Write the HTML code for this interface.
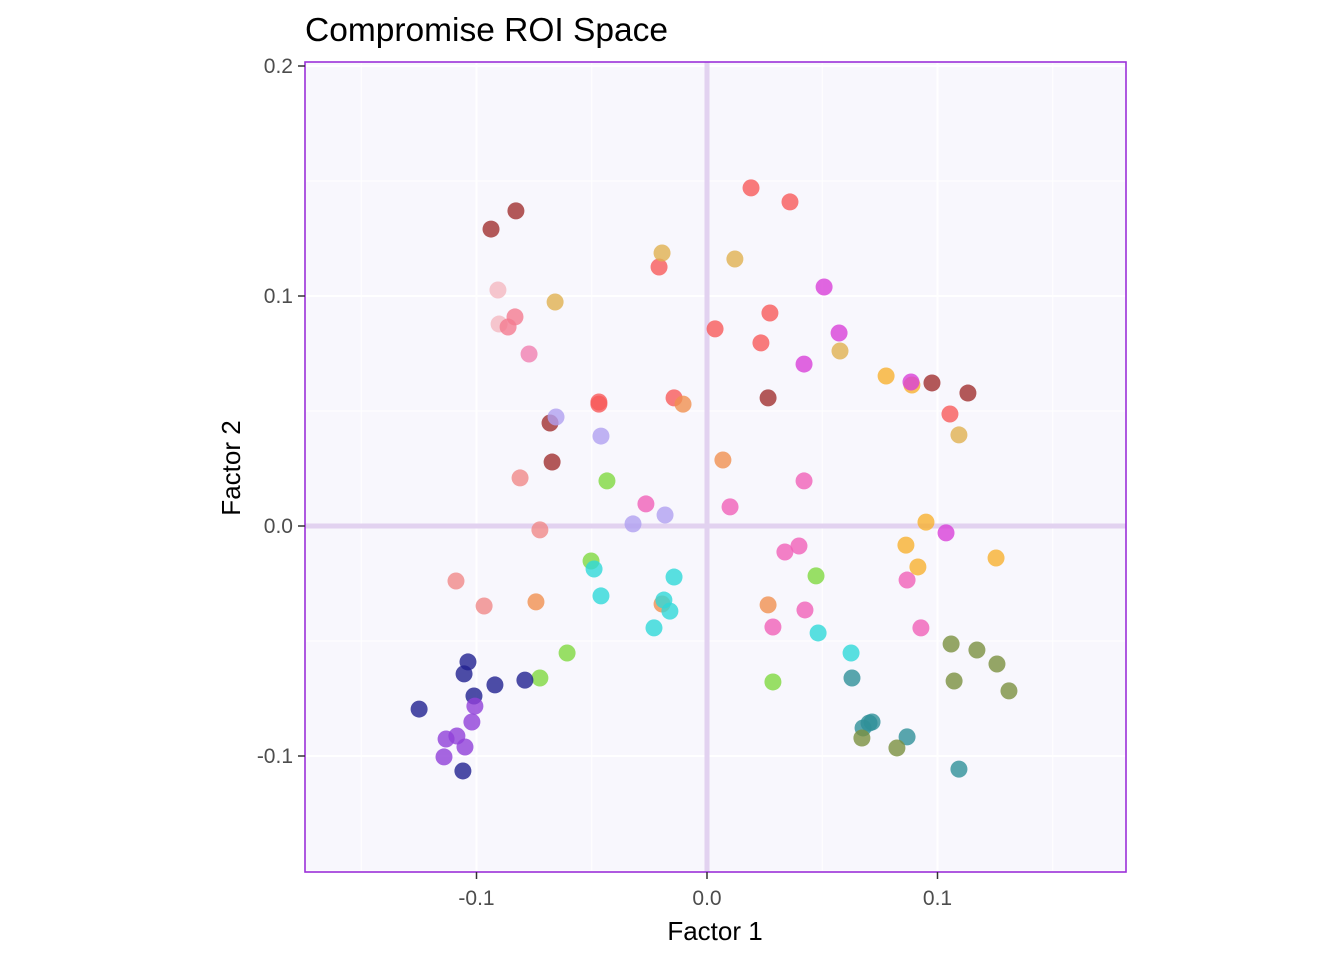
<!DOCTYPE html>
<html><head><meta charset="utf-8"><style>
html,body{margin:0;padding:0;background:#fff;}
svg text{font-family:"Liberation Sans",Arial,sans-serif;}
</style></head><body>
<svg id="chart" width="1344" height="960" xmlns="http://www.w3.org/2000/svg">
<text x="305" y="41" font-size="33.5" fill="#000">Compromise ROI Space</text>
<rect x="305" y="62" width="821" height="810" fill="#f8f7fd"/>
<g id="grid"></g>
<g id="zero"></g>
<g id="pts"></g>
<rect x="305" y="62" width="821" height="810" fill="none" stroke="#9b30d9" stroke-width="1.6"/>
<g id="axes"></g>
<text x="715" y="940" font-size="26" text-anchor="middle">Factor 1</text>
<text x="0" y="0" font-size="26" text-anchor="middle" transform="translate(240,468) rotate(-90)">Factor 2</text>
</svg>
<script>
const xTicks=[-0.1,0.0,0.1];
const xTickLabels=["-0.1","0.0","0.1"];
const yTicks=[-0.1,0.0,0.1,0.2];
const yTickLabels=["-0.1","0.0","0.1","0.2"];
const groupColors=["#a03030","#f85a5a","#f4b8c0","#f47a90","#f080b0","#e0b050","#f8b030","#d840d8","#b0a0f0","#80d840","#f08888","#f09050","#f060b8","#30d8d8","#309098","#7a9040","#202090","#9040d8"];
const ptPx=[[491,229,0],[516,211,0],[550,423,0],[552,462,0],[768,398,0],[932,383,0],[968,393,0],
[751,188,1],[790,202,1],[659,267,1],[715,329,1],[770,313,1],[761,343,1],[599,402,1],[599,404,1],[674,398,1],[950,414,1],
[498,290,2],[499,324,2],[508,327,3],[515,317,3],[529,354,4],
[662,253,5],[735,259,5],[555,302,5],[840,351,5],[959,435,5],
[886,376,6],[912,385,6],[926,522,6],[906,545,6],[918,567,6],[996,558,6],
[824,287,7],[839,333,7],[804,364,7],[911,382,7],[946,533,7],
[556,417,8],[601,436,8],[633,524,8],[665,515,8],
[607,481,9],[591,561,9],[816,576,9],[567,653,9],[540,678,9],[773,682,9],
[520,478,10],[540,530,10],[456,581,10],[484,606,10],
[683,404,11],[723,460,11],[536,602,11],[662,604,11],[768,605,11],
[646,504,12],[730,507,12],[804,481,12],[785,552,12],[799,546,12],[907,580,12],[805,610,12],[773,627,12],[921,628,12],
[594,569,13],[674,577,13],[601,596,13],[664,600,13],[670,611,13],[654,628,13],[818,633,13],[851,653,13],
[852,678,14],[863,728,14],[869,723,14],[872,722,14],[907,737,14],[959,769,14],
[951,644,15],[977,650,15],[997,664,15],[1009,691,15],[954,681,15],[862,738,15],[897,748,15],
[468,662,16],[464,674,16],[474,696,16],[495,685,16],[525,680,16],[419,709,16],[463,771,16],
[475,706,17],[472,722,17],[446,739,17],[457,736,17],[465,747,17],[444,757,17]];
const xVals=ptPx.map(p=>+((p[0]-707)/2305).toFixed(4));
const yVals=ptPx.map(p=>+((526-p[1])/2300).toFixed(4));
const groups=ptPx.map(p=>p[2]);
const X=v=>707+v*2305, Y=v=>526-v*2300;
const NS="http://www.w3.org/2000/svg";
function mk(t,a,parent){const e=document.createElementNS(NS,t);for(const k in a)e.setAttribute(k,a[k]);parent.appendChild(e);return e;}
const grid=document.getElementById('grid');
[-0.15,-0.05,0.05,0.15].forEach(v=>{const l=mk('line',{x1:X(v),x2:X(v),y1:62,y2:872,stroke:'#fff','stroke-width':1},grid);});
[-0.15,-0.05,0.05,0.15].forEach(v=>{const l=mk('line',{y1:Y(v),y2:Y(v),x1:305,x2:1126,stroke:'#fff','stroke-width':1},grid);});
xTicks.forEach(v=>{const l=mk('line',{x1:X(v),x2:X(v),y1:62,y2:872,stroke:'#fff','stroke-width':2},grid);});
yTicks.forEach(v=>{const l=mk('line',{y1:Y(v),y2:Y(v),x1:305,x2:1126,stroke:'#fff','stroke-width':2},grid);});
const zero=document.getElementById('zero');
let z1=mk('line',{x1:X(0),x2:X(0),y1:62,y2:872,stroke:'#e2d2f0','stroke-width':5},zero);


let z2=mk('line',{y1:Y(0),y2:Y(0),x1:305,x2:1126,stroke:'#e2d2f0','stroke-width':5},zero);


const pts=document.getElementById('pts');
xVals.forEach((x,i)=>{const c=mk('circle',{cx:X(x),cy:Y(yVals[i]),r:8.5,fill:groupColors[groups[i]],'fill-opacity':0.8},pts);

});
const axes=document.getElementById('axes');
xTicks.forEach((v,i)=>{const t=mk('line',{x1:X(v),x2:X(v),y1:872,y2:879,stroke:'#333','stroke-width':1.5},axes);


const tx=mk('text',{x:X(v),y:905,'font-size':21,fill:'#4d4d4d','text-anchor':'middle'},axes);tx.textContent=xTickLabels[i];

});
yTicks.forEach((v,i)=>{const t=mk('line',{x1:298,x2:305,y1:Y(v),y2:Y(v),stroke:'#333','stroke-width':1.5},axes);


const tx=mk('text',{x:293,y:Y(v)+7,'font-size':21,fill:'#4d4d4d','text-anchor':'end'},axes);tx.textContent=yTickLabels[i];

});
</script>
</body></html>
